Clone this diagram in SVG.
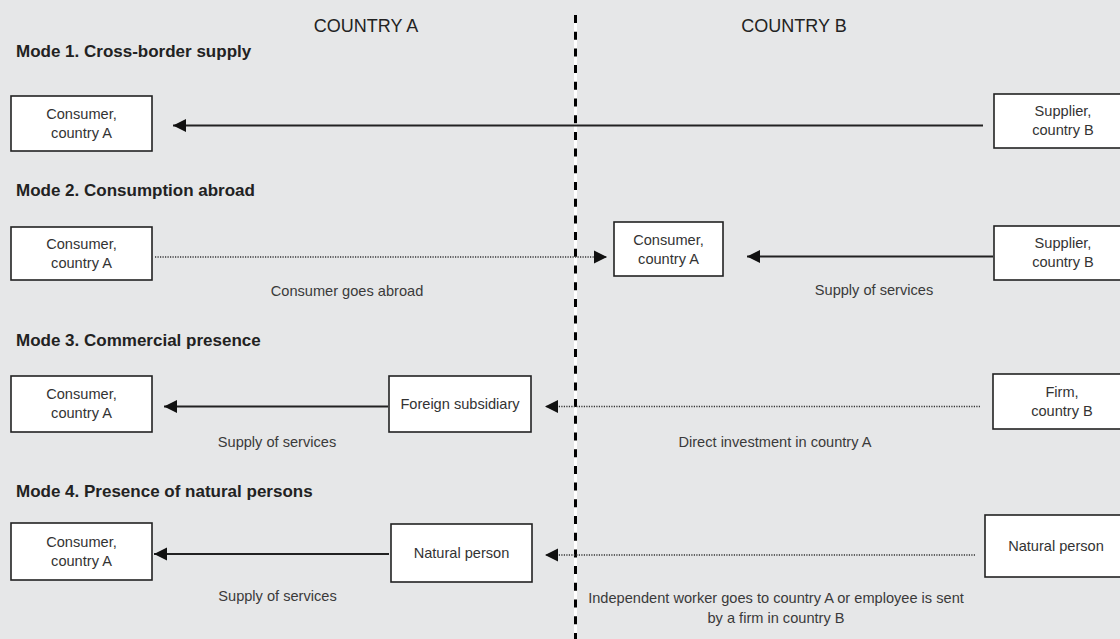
<svg xmlns="http://www.w3.org/2000/svg" width="1120" height="639" viewBox="0 0 1120 639">
<defs>
<style>
.bg{fill:#e6e7e8}
.box{fill:#ffffff;stroke:#222;stroke-width:1.6}
.bt{font-family:"Liberation Sans",Arial,sans-serif;font-size:14.6px;fill:#333;text-anchor:middle}
.lbl{font-family:"Liberation Sans",Arial,sans-serif;font-size:14.6px;fill:#3a3a3a;text-anchor:middle}
.hdr{font-family:"Liberation Sans",Arial,sans-serif;font-size:18px;fill:#222;text-anchor:middle}
.ttl{font-family:"Liberation Sans",Arial,sans-serif;font-size:17px;font-weight:bold;fill:#222}
.solid{stroke:#222;stroke-width:1.8;fill:none;marker-end:url(#ah)}
.dot{stroke:#333;stroke-width:1.4;stroke-dasharray:1.2 1.3;fill:none;marker-end:url(#ah)}
</style>
<marker id="ah" markerUnits="userSpaceOnUse" markerWidth="14" markerHeight="14" refX="13" refY="6.5" orient="auto" viewBox="0 0 14 13">
<path d="M0,0 L13,6.5 L0,13 z" fill="#111"/>
</marker>
</defs>
<rect class="bg" x="0" y="0" width="1120" height="639"/>

<g id="divider">
<line x1="575.5" y1="15" x2="575.5" y2="639" stroke="#ffffff" stroke-width="3"/>
<line x1="575.5" y1="15" x2="575.5" y2="639" stroke="#000" stroke-width="3" stroke-dasharray="8 8.7"/>
</g>

<g id="headers">
<text class="hdr" x="366" y="32">COUNTRY A</text>
<text class="hdr" x="794" y="32">COUNTRY B</text>
</g>

<g id="titles">
<text class="ttl" x="16" y="57">Mode 1. Cross-border supply</text>
<text class="ttl" x="16" y="196">Mode 2. Consumption abroad</text>
<text class="ttl" x="16" y="346">Mode 3. Commercial presence</text>
<text class="ttl" x="16" y="497">Mode 4. Presence of natural persons</text>
</g>

<g id="connectors">
<line class="solid" x1="983" y1="125.5" x2="173" y2="125.5"/>
<line class="dot" x1="155" y1="257" x2="607" y2="257"/>
<line class="solid" x1="993" y1="256.5" x2="747" y2="256.5"/>
<line class="solid" x1="388" y1="406.5" x2="164" y2="406.5"/>
<line class="dot" x1="980" y1="406.5" x2="545" y2="406.5"/>
<line class="solid" x1="389" y1="554" x2="154" y2="554"/>
<line class="dot" x1="975" y1="555" x2="545" y2="555"/>
</g>

<g id="m1-consumer">
<rect class="box" x="11" y="96" width="141" height="55"/>
<text class="bt" x="81.5" y="118.5">Consumer,</text>
<text class="bt" x="81.5" y="137.5">country A</text>
</g>
<g id="m1-supplier">
<rect class="box" x="994" y="94" width="140" height="54"/>
<text class="bt" x="1063" y="116">Supplier,</text>
<text class="bt" x="1063" y="135">country B</text>
</g>

<g id="m2-consumer">
<rect class="box" x="11" y="227" width="141" height="53"/>
<text class="bt" x="81.5" y="248.5">Consumer,</text>
<text class="bt" x="81.5" y="267.5">country A</text>
</g>
<g id="m2-consumer-abroad">
<rect class="box" x="614" y="222" width="109" height="54"/>
<text class="bt" x="668.5" y="244.5">Consumer,</text>
<text class="bt" x="668.5" y="263.5">country A</text>
</g>
<g id="m2-supplier">
<rect class="box" x="994" y="226" width="140" height="54"/>
<text class="bt" x="1063" y="248">Supplier,</text>
<text class="bt" x="1063" y="267">country B</text>
</g>
<text class="lbl" x="347" y="296">Consumer goes abroad</text>
<text class="lbl" x="874" y="294.5">Supply of services</text>

<g id="m3-consumer">
<rect class="box" x="11" y="376" width="141" height="56"/>
<text class="bt" x="81.5" y="399">Consumer,</text>
<text class="bt" x="81.5" y="418">country A</text>
</g>
<g id="m3-subsidiary">
<rect class="box" x="389" y="376" width="142" height="56"/>
<text class="bt" x="460" y="409">Foreign subsidiary</text>
</g>
<g id="m3-firm">
<rect class="box" x="993" y="374" width="140" height="55"/>
<text class="bt" x="1062" y="396.5">Firm,</text>
<text class="bt" x="1062" y="415.5">country B</text>
</g>
<text class="lbl" x="277" y="447">Supply of services</text>
<text class="lbl" x="775" y="446.5">Direct investment in country A</text>

<g id="m4-consumer">
<rect class="box" x="11" y="523" width="141" height="57"/>
<text class="bt" x="81.5" y="546.5">Consumer,</text>
<text class="bt" x="81.5" y="565.5">country A</text>
</g>
<g id="m4-natural-person-a">
<rect class="box" x="391" y="524" width="141" height="58"/>
<text class="bt" x="461.5" y="558">Natural person</text>
</g>
<g id="m4-natural-person-b">
<rect class="box" x="985" y="515" width="150" height="62"/>
<text class="bt" x="1056" y="551">Natural person</text>
</g>
<text class="lbl" x="277.5" y="600.5">Supply of services</text>
<text class="lbl" x="776" y="603">Independent worker goes to country A or employee is sent</text>
<text class="lbl" x="776" y="623">by a firm in country B</text>
</svg>
